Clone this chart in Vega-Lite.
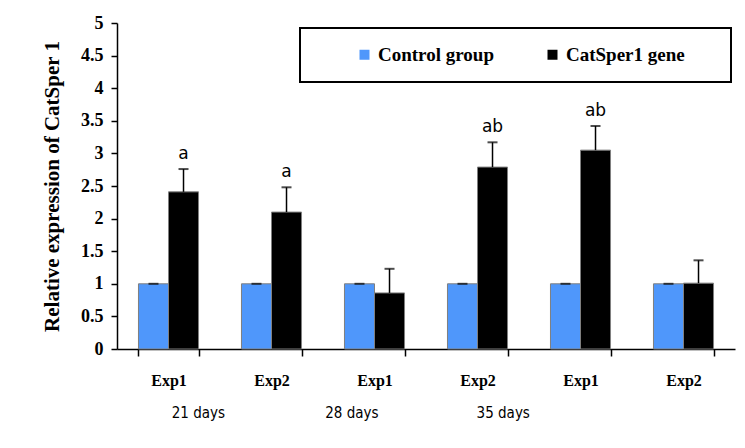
{
  "$schema": "https://vega.github.io/schema/vega-lite/v6.json",
  "width": 618,
  "height": 326,
  "autosize": "none",
  "padding": {"left": 117, "top": 23, "right": 10, "bottom": 99},
  "background": "white",
  "config": {"view": {"stroke": null}, "legend": {"strokeWidth": 2}},
  "datasets": {
    "bars": [
      {"g": "21d-Exp1", "series": "Control group", "value": 1.0, "upper": 1.0, "sig": ""},
      {"g": "21d-Exp1", "series": "CatSper1 gene", "value": 2.41, "upper": 2.76, "sig": "a"},
      {"g": "21d-Exp2", "series": "Control group", "value": 1.0, "upper": 1.0, "sig": ""},
      {"g": "21d-Exp2", "series": "CatSper1 gene", "value": 2.1, "upper": 2.48, "sig": "a"},
      {"g": "28d-Exp1", "series": "Control group", "value": 1.0, "upper": 1.0, "sig": ""},
      {"g": "28d-Exp1", "series": "CatSper1 gene", "value": 0.86, "upper": 1.23, "sig": ""},
      {"g": "28d-Exp2", "series": "Control group", "value": 1.0, "upper": 1.0, "sig": ""},
      {"g": "28d-Exp2", "series": "CatSper1 gene", "value": 2.79, "upper": 3.17, "sig": "ab"},
      {"g": "35d-Exp1", "series": "Control group", "value": 1.0, "upper": 1.0, "sig": ""},
      {"g": "35d-Exp1", "series": "CatSper1 gene", "value": 3.05, "upper": 3.42, "sig": "ab"},
      {"g": "35d-Exp2", "series": "Control group", "value": 1.0, "upper": 1.0, "sig": ""},
      {"g": "35d-Exp2", "series": "CatSper1 gene", "value": 1.01, "upper": 1.36, "sig": ""}
    ],
    "days": [
      {"label": "21 days", "pos": 0.79},
      {"label": "28 days", "pos": 2.28},
      {"label": "35 days", "pos": 3.75}
    ]
  },
  "layer": [
    {
      "data": {"name": "bars"},
      "encoding": {
        "x": {
          "field": "g", "type": "nominal", "sort": null,
          "scale": {"paddingInner": 0.417, "paddingOuter": 0.2085},
          "axis": {
            "title": null,
            "labelExpr": "split(datum.label, '-')[1]",
            "labelAngle": 0,
            "labelFont": "Liberation Serif",
            "labelFontWeight": "bold",
            "labelFontSize": 16,
            "labelColor": "black",
            "labelPadding": 16,
            "tickBand": "extent",
            "tickSize": 7,
            "tickColor": "black",
            "tickWidth": 1.5,
            "domainColor": "black",
            "domainWidth": 1.5
          }
        },
        "xOffset": {"field": "series", "type": "nominal", "sort": ["Control group", "CatSper1 gene"], "scale": {"paddingInner": 0, "paddingOuter": 0}}
      },
      "layer": [
        {
          "mark": {"type": "bar", "stroke": "#7f7f7f", "strokeWidth": 1},
          "encoding": {
            "y": {
              "field": "value", "type": "quantitative",
              "scale": {"domain": [0, 5], "nice": false},
              "axis": {
                "title": "Relative expression of CatSper 1",
                "titleFont": "Liberation Serif", "titleFontWeight": "bold", "titleFontSize": 21, "titleColor": "black", "titlePadding": 18,
                "values": [0, 0.5, 1, 1.5, 2, 2.5, 3, 3.5, 4, 4.5, 5],
                "format": "~g", "labelOverlap": false,
                "labelFont": "Liberation Serif", "labelFontWeight": "bold", "labelFontSize": 18, "labelColor": "black", "labelPadding": 8,
                "grid": false, "tickSize": 6, "tickColor": "black", "tickWidth": 1.5, "domainColor": "black", "domainWidth": 1.5
              }
            },
            "color": {
              "field": "series", "type": "nominal",
              "scale": {"domain": ["Control group", "CatSper1 gene"], "range": ["#4f97fb", "#000000"]},
              "legend": {
                "title": "mm",
                "titleOrient": "right",
                "titleColor": "white",
                "titleFont": "Liberation Serif",
                "titleFontSize": 14,
                "titlePadding": 5,
                "orient": "none",
                "legendX": 183,
                "legendY": 5,
                "direction": "horizontal",
                "symbolType": "square",
                "symbolSize": 100,
                "symbolStrokeWidth": 0,
                "symbolOffset": 38,
                "labelFont": "Liberation Serif",
                "labelFontWeight": "bold",
                "labelFontSize": 19,
                "labelColor": "black",
                "labelOffset": 4,
                "labelLimit": 300,
                "columnPadding": 11,
                "padding": 17,
                "strokeColor": "black",
                "fillColor": "white"
              }
            }
          }
        },
        {
          "mark": {"type": "rule", "color": "black", "strokeWidth": 1.5},
          "encoding": {
            "y": {
              "field": "value", "type": "quantitative",
              "axis": {
                "title": "Relative expression of CatSper 1",
                "titleFont": "Liberation Serif", "titleFontWeight": "bold", "titleFontSize": 21, "titleColor": "black", "titlePadding": 18,
                "values": [0, 0.5, 1, 1.5, 2, 2.5, 3, 3.5, 4, 4.5, 5],
                "format": "~g", "labelOverlap": false,
                "labelFont": "Liberation Serif", "labelFontWeight": "bold", "labelFontSize": 18, "labelColor": "black", "labelPadding": 8,
                "grid": false, "tickSize": 6, "tickColor": "black", "tickWidth": 1.5, "domainColor": "black", "domainWidth": 1.5
              }
            },
            "y2": {"field": "upper"}
          }
        },
        {
          "mark": {"type": "tick", "color": "black", "thickness": 2, "size": 10, "orient": "horizontal"},
          "encoding": {
            "y": {
              "field": "upper", "type": "quantitative",
              "axis": {
                "title": "Relative expression of CatSper 1",
                "titleFont": "Liberation Serif", "titleFontWeight": "bold", "titleFontSize": 21, "titleColor": "black", "titlePadding": 18,
                "values": [0, 0.5, 1, 1.5, 2, 2.5, 3, 3.5, 4, 4.5, 5],
                "format": "~g", "labelOverlap": false,
                "labelFont": "Liberation Serif", "labelFontWeight": "bold", "labelFontSize": 18, "labelColor": "black", "labelPadding": 8,
                "grid": false, "tickSize": 6, "tickColor": "black", "tickWidth": 1.5, "domainColor": "black", "domainWidth": 1.5
              }
            }
          }
        },
        {
          "mark": {"type": "text", "font": "DejaVu Sans", "fontSize": 17, "color": "black", "baseline": "bottom", "dy": -6},
          "encoding": {
            "y": {
              "field": "upper", "type": "quantitative",
              "axis": {
                "title": "Relative expression of CatSper 1",
                "titleFont": "Liberation Serif", "titleFontWeight": "bold", "titleFontSize": 21, "titleColor": "black", "titlePadding": 18,
                "values": [0, 0.5, 1, 1.5, 2, 2.5, 3, 3.5, 4, 4.5, 5],
                "format": "~g", "labelOverlap": false,
                "labelFont": "Liberation Serif", "labelFontWeight": "bold", "labelFontSize": 18, "labelColor": "black", "labelPadding": 8,
                "grid": false, "tickSize": 6, "tickColor": "black", "tickWidth": 1.5, "domainColor": "black", "domainWidth": 1.5
              }
            },
            "text": {"field": "sig"}
          }
        }
      ]
    },
    {
      "data": {"name": "days"},
      "mark": {"type": "text", "font": "DejaVu Sans Condensed", "fontSize": 15, "color": "black", "baseline": "middle"},
      "encoding": {
        "x": {"field": "pos", "type": "quantitative", "scale": {"domain": [0, 6], "nice": false}, "axis": null},
        "y": {
          "datum": -0.98, "type": "quantitative",
          "axis": {
            "title": "Relative expression of CatSper 1",
            "titleFont": "Liberation Serif", "titleFontWeight": "bold", "titleFontSize": 21, "titleColor": "black", "titlePadding": 18,
            "values": [0, 0.5, 1, 1.5, 2, 2.5, 3, 3.5, 4, 4.5, 5],
            "format": "~g", "labelOverlap": false,
            "labelFont": "Liberation Serif", "labelFontWeight": "bold", "labelFontSize": 18, "labelColor": "black", "labelPadding": 8,
            "grid": false, "tickSize": 6, "tickColor": "black", "tickWidth": 1.5, "domainColor": "black", "domainWidth": 1.5
          }
        },
        "text": {"field": "label"}
      }
    }
  ],
  "resolve": {"scale": {"x": "independent"}}
}
